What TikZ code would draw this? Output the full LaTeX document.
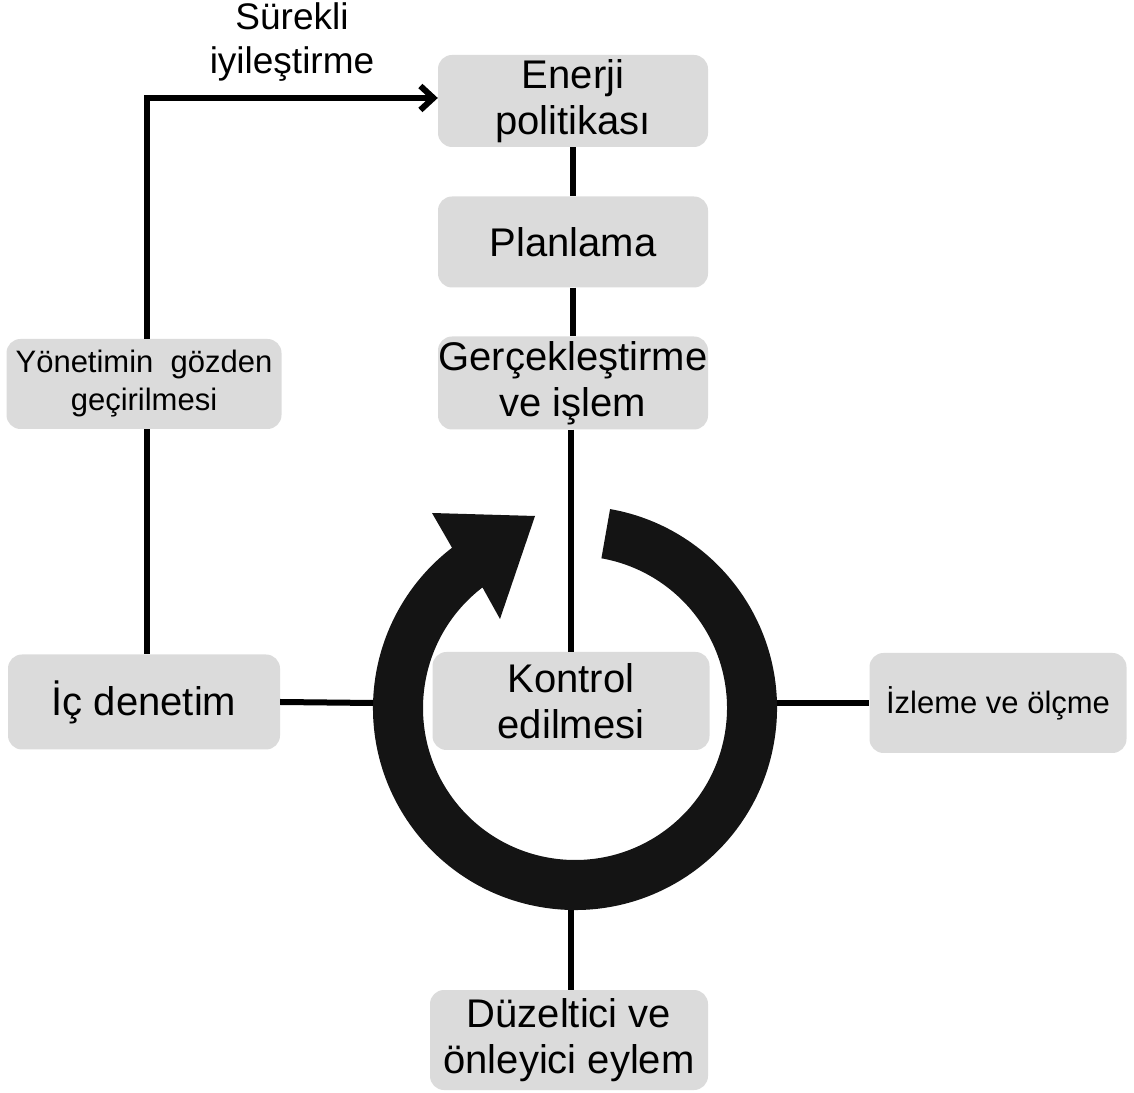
\documentclass[tikz,border=0pt]{standalone}
\usepackage{fontspec}
\setmainfont{Liberation Sans}
\usetikzlibrary{arrows.meta,calc}
\begin{document}
\begin{tikzpicture}[x=1pt,y=1pt,
  box/.style={fill=gray!28, rounded corners=14pt, align=center, inner sep=0pt,
    font=\fontsize{40}{46}\selectfont},
  sidebox/.style={box, font=\fontsize{31}{38}\selectfont},
  conn/.style={line width=6pt},
  ring/.style={fill=black!92, draw=none}]
\useasboundingbox (0,0) rectangle (1134,1092);
% boxes
\node[box, minimum width=270, minimum height=92] (ep) at (573,991) {Enerji\\politikası};
\node[box, minimum width=270, minimum height=91] (pl) at (573,850) {Planlama};
\node[box, minimum width=270, minimum height=93] (ge) at (573,709) {Gerçekleştirme\\ve işlem};
\node[box, minimum width=277, minimum height=98] (ko) at (571,391) {Kontrol\\edilmesi};
\node[box, minimum width=272, minimum height=95] (ic) at (144,390) {İç denetim};
\node[sidebox, minimum width=275, minimum height=90] (yo) at (144,708) {Yönetimin\ \ gözden\\geçirilmesi};
\node[sidebox, minimum width=257, minimum height=100] (iz) at (998,389) {İzleme ve ölçme};
\node[box, minimum width=278, minimum height=100] (du) at (569,52) {Düzeltici ve\\önleyici eylem};
\node[align=center, inner sep=0pt, font=\fontsize{37}{44}\selectfont] (su) at (292,1050) {Sürekli\\iyileştirme};
% ring
\coordinate (rc) at (575,384);
\path[ring] ($(rc)+(80:202)$) arc[start angle=80, end angle=-232.5, radius=202]
  -- ($(rc)+(-143,195)$) -- ($(rc)+(-40,192)$) -- ($(rc)+(-75,89)$)
  -- ($(rc)+(127.5:152)$) arc[start angle=-232.5, end angle=80, radius=152] -- cycle;
\coordinate (rl) at (373,389);
\coordinate (rr) at (777,389);
\coordinate (rb) at (571,182);
% connectors
\coordinate (elbow) at (147,994);
\draw[conn] (ep.south) -- (pl.north);
\draw[conn] (pl.south) -- (ge.north);
\draw[conn] (ge.south -| ko.north) -- (ko.north);
\draw[conn] (yo.south -| elbow) -- (ic.north -| elbow);
\draw[conn, -{Straight Barb[length=13pt,width=24pt]}] (yo.north -| elbow) -- (elbow) -- (ep.west |- elbow);
\draw[conn] (ic.east) -- (rl);
\draw[conn] (rr) -- (iz.west);
\draw[conn] (rb) -- (du.north -| rb);
\end{tikzpicture}
\end{document}
